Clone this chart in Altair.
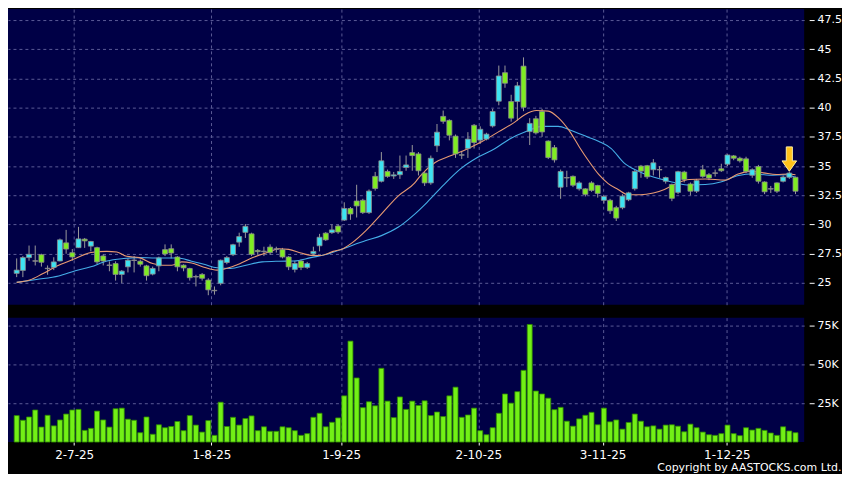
import altair as alt
import pandas as pd

# ---------------- data ----------------
opens = [25.82, 26.07, 27.17, 26.90, 27.42, 26.26, 26.33, 26.88, 28.43, 27.59,
         28.02, 28.75, 28.15, 28.02, 27.31, 26.54, 26.66, 25.73, 26.38, 26.96,
         26.86, 26.46, 25.76, 26.46, 27.85, 27.93, 27.22, 26.52, 26.24, 25.55,
         25.73, 25.25, 24.37, 24.97, 26.75, 27.42, 28.49, 29.33, 29.20, 27.78,
         27.72, 28.07, 27.92, 27.85, 27.22, 26.16, 26.88, 26.33, 27.50, 28.18,
         29.26, 29.31, 29.87, 30.38, 31.37, 32.01, 32.07, 31.02, 34.12, 33.70,
         34.54, 34.15, 34.26, 34.88, 36.15, 36.04, 34.40, 33.56, 36.74, 39.25,
         38.91, 37.56, 35.97, 36.51, 38.49, 37.22, 37.31, 38.43, 40.55, 42.99,
         40.52, 40.52, 43.55, 37.95, 39.05, 39.67, 37.14, 36.58, 33.19, 34.02,
         34.12, 33.05, 33.05, 33.56, 33.34, 32.07, 32.07, 31.44, 31.44, 32.12,
         33.06, 35.00, 35.03, 34.69, 34.71, 33.70, 33.42, 32.75, 34.49, 33.47,
         32.85, 34.69, 34.26, 34.42, 34.77, 35.16, 35.87, 35.67, 35.62, 34.21,
         34.96, 33.64, 33.07, 33.56, 33.70, 34.04, 34.04]
closes = [26.10, 27.17, 27.45, 26.86, 26.77, 26.22, 26.80, 28.69, 27.90, 27.22,
          28.77, 28.60, 28.55, 26.80, 26.88, 26.50, 25.73, 26.01, 26.94, 26.92,
          26.60, 25.62, 26.24, 27.14, 27.48, 27.56, 26.38, 26.29, 25.45, 25.51,
          25.40, 24.41, 24.33, 26.94, 27.17, 28.27, 28.97, 29.84, 27.45, 27.68,
          27.68, 27.60, 27.88, 27.22, 26.38, 26.66, 26.33, 26.66, 27.70, 28.91,
          28.69, 29.54, 29.36, 31.37, 30.90, 31.59, 31.02, 32.86, 33.08, 35.45,
          34.12, 34.25, 34.54, 35.10, 35.90, 34.60, 33.56, 35.67, 37.90, 38.83,
          37.64, 36.04, 35.93, 37.31, 37.02, 38.15, 37.73, 39.67, 42.71, 42.09,
          39.10, 41.87, 40.03, 38.65, 37.84, 37.92, 35.73, 35.53, 34.54, 33.98,
          33.36, 33.56, 32.58, 32.92, 32.66, 32.40, 31.17, 30.55, 32.43, 32.71,
          34.54, 34.57, 34.08, 35.28, 34.67, 34.02, 32.24, 34.52, 33.84, 32.85,
          33.76, 34.12, 33.98, 34.38, 34.60, 35.95, 35.67, 35.45, 34.54, 34.69,
          33.70, 32.80, 33.03, 32.85, 34.06, 34.40, 32.85]
highs = [27.1, 27.3, 28.2, 28.2, 27.5, 26.5, 27.2, 28.8, 29.54, 27.9,
         29.8, 28.85, 28.6, 28.1, 27.45, 26.85, 26.85, 26.1, 27.1, 27.3,
         27.0, 26.55, 26.4, 27.25, 28.3, 28.3, 27.3, 26.6, 26.3, 25.7,
         25.85, 25.4, 24.7, 27.0, 27.3, 28.35, 29.3, 30.04, 29.3, 27.9,
         28.1, 28.3, 28.1, 28.0, 27.3, 26.9, 27.0, 26.8, 28.1, 29.2,
         29.35, 30.0, 30.0, 31.9, 31.5, 33.4, 32.2, 33.0, 34.5, 36.2,
         34.7, 34.5, 35.9, 35.9, 36.8, 36.2, 34.5, 35.9, 38.6, 39.75,
         39.0, 37.7, 36.3, 37.9, 38.6, 38.4, 37.85, 39.9, 43.6, 43.6,
         41.1, 42.2, 44.3, 39.1, 39.3, 39.9, 37.2, 36.8, 34.7, 34.6,
         34.2, 33.7, 33.1, 33.7, 33.4, 32.5, 32.2, 31.6, 32.6, 32.8,
         34.7, 35.1, 35.1, 35.6, 35.0, 34.1, 33.5, 34.6, 34.6, 33.6,
         33.9, 35.1, 34.4, 34.7, 35.2, 36.0, 35.95, 35.8, 35.8, 34.8,
         35.1, 33.7, 33.3, 33.6, 34.2, 34.5, 34.1]
lows = [25.5, 25.5, 26.9, 26.5, 26.4, 25.7, 26.1, 26.85, 27.5, 26.9,
        28.0, 28.0, 27.7, 26.6, 26.5, 26.0, 25.2, 25.0, 25.9, 25.9,
        26.4, 25.2, 25.65, 26.0, 27.3, 27.1, 26.0, 26.0, 25.2, 24.7,
        25.2, 23.95, 24.0, 24.8, 26.6, 27.3, 28.1, 28.85, 27.3, 27.4,
        27.3, 27.4, 27.6, 27.1, 26.1, 25.9, 26.1, 26.2, 27.4, 27.7,
        28.6, 29.2, 29.2, 30.3, 30.4, 30.6, 30.9, 30.9, 32.9, 33.6,
        34.0, 33.9, 33.9, 34.6, 34.6, 34.2, 33.3, 33.4, 36.2, 38.62,
        37.2, 35.7, 35.6, 35.7, 36.5, 36.9, 37.2, 38.3, 40.2, 41.7,
        38.8, 38.9, 39.7, 36.8, 37.7, 37.5, 35.6, 35.3, 32.2, 33.2,
        33.2, 32.9, 32.4, 32.8, 32.3, 31.8, 30.9, 30.3, 31.3, 32.0,
        32.9, 34.0, 33.9, 34.2, 34.0, 33.5, 32.0, 32.6, 33.6, 32.5,
        32.7, 34.0, 33.8, 34.1, 34.5, 35.0, 35.5, 35.3, 34.4, 34.0,
        33.5, 32.6, 32.7, 32.7, 33.6, 33.9, 32.6]
volumes_k = [17.0, 14.0, 16.1, 20.6, 9.6, 17.2, 10.4, 14.2, 18.0, 20.6,
             21.0, 7.5, 8.8, 19.9, 14.2, 9.6, 21.4, 21.8, 14.7, 14.0,
             6.0, 16.1, 5.0, 11.1, 9.2, 10.0, 13.2, 7.3, 17.0, 10.9,
             6.4, 13.8, 4.3, 25.6, 10.0, 15.9, 10.9, 15.1, 16.8, 7.3,
             9.8, 6.9, 6.9, 9.8, 9.2, 7.3, 4.3, 5.4, 15.9, 18.5,
             9.8, 12.7, 15.5, 29.7, 64.9, 41.2, 22.1, 25.9, 23.3, 47.4,
             26.3, 15.7, 29.0, 21.0, 26.3, 23.5, 26.5, 17.0, 19.3, 16.4,
             29.7, 35.3, 15.9, 17.4, 21.8, 7.3, 4.7, 9.2, 18.5, 30.9,
             25.0, 32.4, 46.1, 75.6, 32.8, 30.9, 28.2, 20.8, 22.3, 13.4,
             10.2, 14.9, 17.2, 19.1, 11.1, 21.8, 13.0, 14.2, 8.3, 12.6,
             18.0, 13.4, 9.8, 10.4, 8.3, 10.9, 11.1, 10.2, 6.6, 11.5,
             9.2, 6.4, 4.7, 4.3, 5.4, 10.9, 5.4, 4.1, 9.2, 7.7,
             8.8, 7.5, 5.8, 4.3, 9.8, 7.1, 6.0]

# moving averages read at sample bars (bar index, price)
ma_short_idx = [0, 2.1, 4.1, 6.8, 9.5, 12, 14.6, 16.2, 17.8, 19.8, 22, 23.6, 25.1, 26.7, 28.3,
                30.3, 32.4, 33.5, 35.5, 38.2, 40.8, 42.4, 44, 46, 47.6, 49.1, 51.2, 52.8, 54.3,
                56.5, 59, 61.7, 64.4, 65.2, 67.7, 70.3, 72.8, 75.3, 78, 80.4, 82.2, 84.1, 86,
                87.7, 89.5, 91, 92.6, 94.2, 95.7, 97.3, 98.9, 100.9, 103, 104.8, 106.7, 108.8,
                111.4, 114.6, 116.6, 118.6, 120.8, 122.9, 124.9, 126]
ma_short_val = [25.05, 25.25, 25.76, 26.52, 27.09, 27.6, 27.70, 27.65, 27.28, 27.17, 26.66, 26.52,
                26.52, 26.80, 26.71, 26.35, 26.10, 26.18, 26.52, 27.17, 27.65, 27.93, 27.87, 27.56,
                27.36, 27.35, 27.7, 27.93, 28.45, 29.48, 30.89, 32.43, 33.56, 34.1, 35.3, 35.9,
                36.45, 37.1, 37.95, 38.7, 39.4, 39.75, 39.7, 39.1, 37.95, 36.66, 35.39, 34.26,
                33.5, 33.0, 32.55, 32.55, 32.7, 33.0, 33.5, 33.85, 33.9, 33.8, 34.3, 34.55,
                34.42, 34.28, 34.32, 34.26]
ma_long_idx = [0, 3.2, 6.8, 9.5, 12, 14.6, 17.3, 19.8, 22.5, 26.1, 28.3, 30.3, 32.4, 34.6, 37.1,
               39.7, 42.4, 44.9, 47.6, 50.2, 52.8, 56.5, 59, 61.7, 64.4, 66.4, 69, 71.9, 74.6,
               77.4, 79.7, 82.6, 85, 87.6, 89.6, 92.3, 94.2, 96.2, 98.2, 100.4, 102.5, 104.5,
               106.7, 108.8, 111.4, 113.9, 116.6, 119.3, 121.8, 124.4, 126]
ma_long_val = [25.05, 25.3, 25.6, 26.04, 26.38, 26.88, 27.09, 27.17, 27.14, 27.14, 26.86, 26.6,
               26.3, 26.24, 26.52, 26.8, 26.86, 26.88, 27.17, 27.45, 27.93, 28.63, 29.05, 29.76,
               30.89, 31.9, 33.35, 34.8, 35.75, 36.5, 37.3, 38.0, 38.4, 38.4, 38.07, 37.5, 37.1,
               36.5, 35.3, 34.6, 34.15, 33.85, 33.55, 33.38, 33.42, 33.64, 34.18, 34.35, 34.21,
               34.26, 34.04]

tick_pos = [9.3, 31.5, 52.5, 74.7, 94.8, 114.9]
tick_labels = ["2-7-25", "1-8-25", "1-9-25", "2-10-25", "3-11-25", "1-12-25"]
price_ticks = [25, 27.5, 30, 32.5, 35, 37.5, 40, 42.5, 45, 47.5]
price_tick_labels = ["25", "27.5", "30", "32.5", "35", "37.5", "40", "42.5", "45", "47.5"]
vol_ticks = [25, 50, 75]
arrow_idx = [125]
arrow_price = [35.6]

# ---------------- tables ----------------
n = len(opens)
df = pd.DataFrame({"i": list(range(n)), "open": opens, "close": closes,
                   "high": highs, "low": lows, "vol": volumes_k})
df["dir"] = ["doji" if abs(c - o) < 0.06 else ("up" if c > o else "down")
             for o, c in zip(opens, closes)]
ma_short_df = pd.DataFrame({"i": ma_short_idx, "v": ma_short_val})
ma_long_df = pd.DataFrame({"i": ma_long_idx, "v": ma_long_val})
arrow_df = pd.DataFrame({"i": arrow_idx, "p": arrow_price})

FONT = "DejaVu Sans"
W = 800
xscale = alt.Scale(domain=[-0.6, n - 0.4], nice=False, zero=False)
label_expr = ("[" + ",".join(f"'{t}'" for t in tick_labels) + "][indexof(["
              + ",".join(str(v) for v in tick_pos) + "], datum.value)]")
price_label_expr = ("[" + ",".join(f"'{t}'" for t in price_tick_labels) + "][indexof(["
                    + ",".join(str(v) for v in price_ticks) + "], datum.value)]")

x_axis_p = alt.Axis(values=tick_pos, labels=False, ticks=False, domain=False, title=None, grid=True)
yscale = alt.Scale(domain=[23.14, 48.43], nice=False, zero=False)
y_axis = alt.Axis(values=price_ticks, orient="right", labelExpr=price_label_expr, title=None,
                  offset=5, tickSize=5, labelPadding=3, domain=False, grid=True,
                  labelOverlap=False, labelBound=False, labelFlush=False)


def X():
    return alt.X("i:Q", scale=xscale, axis=x_axis_p)


def Y(field):
    return alt.Y(field, scale=yscale, axis=y_axis)


color_scale = alt.Scale(domain=["up", "down", "doji"], range=["#3de3f2", "#7fec22", "#9a9a9a"])

base = alt.Chart(df)
wicks = base.mark_rule(color="#9a9a9a", strokeWidth=1).encode(
    x=X(), y=Y("low:Q"), y2="high:Q")
bodies = base.mark_bar(size=5, stroke="#8c8c8c", strokeWidth=0.8).encode(
    x=X(), y=Y("open:Q"), y2="close:Q",
    color=alt.Color("dir:N", scale=color_scale, legend=None))
ma_long = alt.Chart(ma_long_df).mark_line(strokeWidth=1.1, interpolate="monotone",
                                          color="#45aee8").encode(x=X(), y=Y("v:Q"))
ma_short = alt.Chart(ma_short_df).mark_line(strokeWidth=1.1, interpolate="monotone",
                                            color="#e89a72").encode(x=X(), y=Y("v:Q"))
arrow = alt.Chart(arrow_df).mark_point(
    shape="M-0.25,-1L0.25,-1L0.25,0.15L0.6,0.15L0,1L-0.6,0.15L-0.25,0.15Z",
    size=600, filled=True, fill="#ffc21a", stroke="#fff0a0", strokeWidth=1, opacity=1).encode(
    x=X(), y=Y("p:Q"))

price = alt.layer(wicks, ma_long, ma_short, bodies, arrow).properties(width=W, height=297)

x_vol = alt.X("i:Q", scale=xscale, axis=alt.Axis(values=tick_pos, labelExpr=label_expr,
                                                  ticks=True, tickSize=3, domain=False, title=None,
                                                  grid=True, labelFontSize=12, labelPadding=5))
volume = alt.Chart(df).mark_bar(size=5, fill="#72f016", stroke="#2f8a00", strokeWidth=0.8).encode(
    x=x_vol,
    y=alt.Y("vol:Q", scale=alt.Scale(domain=[0, 80], nice=False),
            axis=alt.Axis(values=vol_ticks, orient="right", labelExpr="datum.value + 'K'",
                          title=None, offset=5, tickSize=5, labelPadding=3, domain=False,
                          grid=True, labelOverlap=False))
).properties(width=W, height=125)

chart = alt.vconcat(price, volume, spacing=13).properties(
    padding={"left": 0, "top": 0, "right": 0, "bottom": 0},
    background="#000000",
    title=alt.TitleParams("Copyright by AASTOCKS.com Ltd.", orient="bottom", anchor="end",
                          color="#ffffff", fontSize=11, font=FONT, fontWeight="normal", offset=1),
).configure_view(fill="#000046", stroke=None).configure_axis(
    gridColor="#5b5b96", gridDash=[3, 3], gridWidth=1, gridOpacity=1, labelOverlap=False,
    labelColor="#ffffff", labelFont=FONT, labelFontSize=11, tickColor="#ffffff", tickWidth=1,
).configure_concat(spacing=13)

chart.save("out.html", embed_options={"renderer": "svg", "actions": False})
